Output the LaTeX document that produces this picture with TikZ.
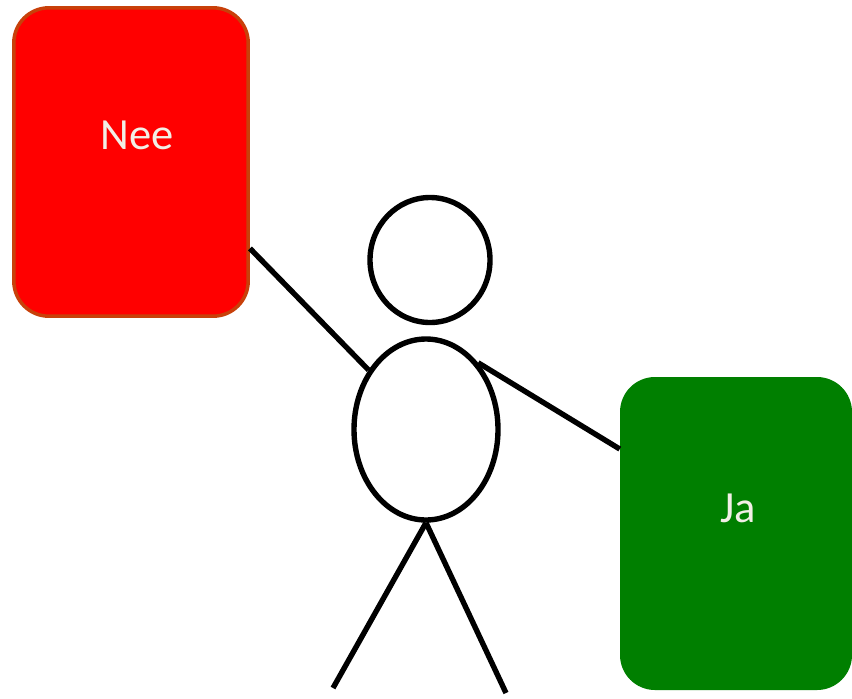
\documentclass[tikz,border=0pt]{standalone}
\usepackage{fontspec}
\setmainfont{Carlito}
\usetikzlibrary{shapes.geometric}
\definecolor{neefill}{HTML}{FF0000}
\definecolor{neeline}{HTML}{C8400A}
\definecolor{jafill}{HTML}{007F00}
\definecolor{cardtext}{HTML}{F2EFE6}
\tikzset{card/.style={rectangle, rounded corners=1.05cm, inner sep=0pt},
  cardlabel/.style={text=cardtext, font=\fontsize{38}{44}\selectfont},
  limb/.style={draw, line width=4.6pt},
  part/.style={ellipse, draw, line width=4.6pt, inner sep=0pt}}

\begin{document}
\begin{tikzpicture}[x=0.03cm, y=-0.03cm]
  \useasboundingbox (0,0) rectangle (852,698);
  % Place nodes
  \node [card, fill=neefill, draw=neeline, line width=3pt,
    minimum width=7.03cm, minimum height=9.25cm] (nee) at (131,162) {};
  \node [cardlabel] (neetext) at (137,135) {Nee};
  \node [card, fill=jafill, minimum width=6.96cm, minimum height=9.39cm]
    (ja) at (736,533.5) {};
  \node [cardlabel] (jatext) at (738,508) {Ja};
  \node [part, minimum width=3.6cm, minimum height=3.75cm] (head) at (430,260) {};
  \node [part, minimum width=4.32cm, minimum height=5.43cm] (body) at (426,429.5) {};
  \coordinate (lfoot) at (333,688);
  \coordinate (rfoot) at (506,693);
  % Draw limbs
  \path [limb] (nee.-36) -- (body.134);
  \path [limb] (body.52) -- (ja.144);
  \path [limb] (body.south) -- (lfoot);
  \path [limb] (body.south) -- (rfoot);
\end{tikzpicture}
\end{document}
